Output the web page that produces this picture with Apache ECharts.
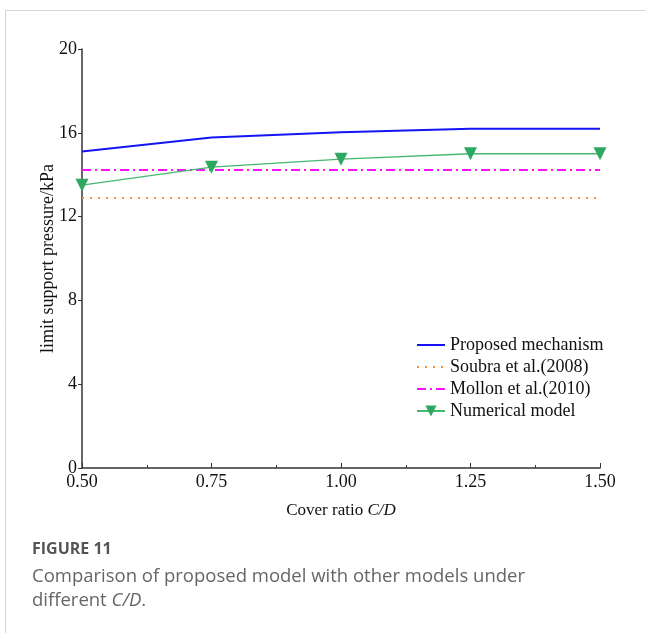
<!DOCTYPE html>
<html><head><meta charset="utf-8">
<script src="https://cdn.jsdelivr.net/npm/echarts@6/dist/echarts.min.js"></script>
<style>html,body{margin:0;padding:0;background:#fff}#c{width:645px;height:633px}</style>
</head><body><div id="c"></div>
<script>
const ratios = [0.50, 0.75, 1.00, 1.25, 1.50];
const proposed = [15.11, 15.78, 16.03, 16.19, 16.19];
const soubra = [12.89, 12.89, 12.89, 12.89, 12.89];
const mollon = [14.23, 14.23, 14.23, 14.23, 14.23];
const numerical = [13.5, 14.36, 14.74, 15.0, 15.0];
const seriesNames = ['Proposed mechanism', 'Soubra et al.(2008)', 'Mollon et al.(2010)', 'Numerical model'];
const xName = 'Cover ratio ';
const yName = 'limit support pressure/kPa';
const figLabel = 'FIGURE 11';
const captionLine1 = 'Comparison of proposed model with other models under';
const captionLine2 = 'different ';

const pairs = a => ratios.map((x, i) => [x, a[i]]);
const serif = 'Liberation Serif';
const hidden = {color: 'rgba(0,0,0,0)', borderWidth: 0, opacity: 0};
const chart = echarts.init(document.getElementById('c'), null, {renderer: 'canvas'});
chart.setOption({
  animation: false,
  backgroundColor: '#fff',
  grid: {left: 82, right: 45, top: 49, bottom: 165},
  legend: {
    orient: 'vertical', left: 411, top: 331, itemGap: 4, itemWidth: 28, itemHeight: 14,
    textStyle: {fontFamily: serif, fontSize: 18, color: '#111'},
    data: [
      {name: seriesNames[0], itemStyle: hidden},
      {name: seriesNames[1], itemStyle: hidden},
      {name: seriesNames[2], itemStyle: hidden},
      {name: seriesNames[3]}
    ]
  },
  xAxis: {
    type: 'value', min: 0.5, max: 1.5, interval: 0.25,
    name: xName + '{i|C/D}', nameLocation: 'middle', nameGap: 34, nameMoveOverlap: false,
    nameTextStyle: {fontFamily: serif, fontSize: 17, color: '#111', rich: {i: {fontFamily: serif, fontSize: 17, fontStyle: 'italic', color: '#111'}}},
    axisLine: {lineStyle: {color: '#333', width: 1.5}},
    axisTick: {inside: true, length: 5, lineStyle: {color: '#333'}},
    minorTick: {show: true, splitNumber: 2, length: 3, lineStyle: {color: '#333'}},
    splitLine: {show: false},
    axisLabel: {fontFamily: serif, fontSize: 18, color: '#111', margin: 5, formatter: v => v.toFixed(2)}
  },
  yAxis: {
    type: 'value', min: 0, max: 20, interval: 4,
    name: yName, nameLocation: 'middle', nameGap: 25, nameMoveOverlap: false,
    nameTextStyle: {fontFamily: serif, fontSize: 18, color: '#111'},
    axisLine: {show: true, lineStyle: {color: '#333', width: 1.5}},
    axisTick: {show: true, length: 4, lineStyle: {color: '#333'}},
    splitLine: {show: false},
    axisLabel: {fontFamily: serif, fontSize: 18, color: '#111', margin: 5}
  },
  series: [
    {name: seriesNames[0], type: 'line', data: pairs(proposed), symbol: 'none', lineStyle: {color: '#1414f5', width: 2}, itemStyle: {color: '#1414f5'}},
    {name: seriesNames[1], type: 'line', data: pairs(soubra), symbol: 'none', lineStyle: {color: '#ff8a30', width: 2, type: [2, 6]}, itemStyle: {color: '#ff8a30'}},
    {name: seriesNames[2], type: 'line', data: pairs(mollon), symbol: 'none', lineStyle: {color: '#ff10ff', width: 2, type: [9, 4, 2, 4]}, itemStyle: {color: '#ff10ff'}},
    {name: seriesNames[3], type: 'line', data: pairs(numerical), symbol: 'triangle', symbolRotate: 180, symbolSize: 13,
     lineStyle: {color: '#45b870', width: 1.3}, itemStyle: {color: '#2ea860'}}
  ],
  graphic: [
    {type: 'polyline', shape: {points: [[5.5, 633], [5.5, 10.5], [645, 10.5]]}, style: {stroke: '#d4d4d4', lineWidth: 1, fill: null}},
    {type: 'text', left: 32, top: 541, style: {text: figLabel, fontFamily: 'Open Sans', fontWeight: 'bold', fontSize: 16, fill: '#555'}},
    {type: 'text', left: 32, top: 567, style: {text: captionLine1, fontFamily: 'Open Sans', fontSize: 18.5, fill: '#666'}},
    {type: 'text', left: 32, top: 591, style: {text: captionLine2 + '{i|C/D}.', fontFamily: 'Open Sans', fontSize: 18.5, fill: '#666',
      rich: {i: {fontFamily: 'Open Sans', fontStyle: 'italic', fontSize: 18.5, fill: '#666'}}}}
  ]
});
</script></body></html>
